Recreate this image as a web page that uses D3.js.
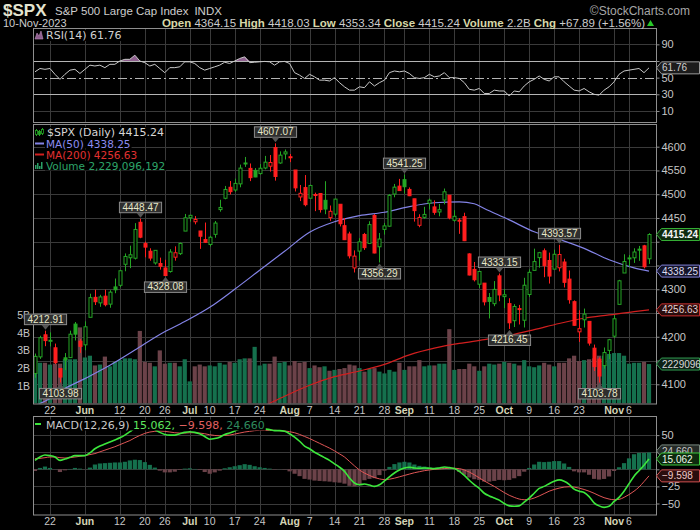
<!DOCTYPE html>
<html>
<head>
<meta charset="utf-8">
<script src="https://cdn.jsdelivr.net/npm/d3@7/dist/d3.min.js"></script>
<style>
  html, body { margin: 0; padding: 0; background: #000; }
  svg { display: block; }
</style>
</head>
<body>
<svg id="chart" width="700" height="530"></svg>
<script>
// trading days shown on the chart
const dates = [
  '2023-05-17','2023-05-18','2023-05-19','2023-05-22','2023-05-23','2023-05-24','2023-05-25','2023-05-26','2023-05-30','2023-05-31',
  '2023-06-01','2023-06-02','2023-06-05','2023-06-06','2023-06-07','2023-06-08','2023-06-09','2023-06-12','2023-06-13','2023-06-14',
  '2023-06-15','2023-06-16','2023-06-20','2023-06-21','2023-06-22','2023-06-23','2023-06-26','2023-06-27','2023-06-28','2023-06-29','2023-06-30',
  '2023-07-03','2023-07-05','2023-07-06','2023-07-07','2023-07-10','2023-07-11','2023-07-12','2023-07-13','2023-07-14','2023-07-17',
  '2023-07-18','2023-07-19','2023-07-20','2023-07-21','2023-07-24','2023-07-25','2023-07-26','2023-07-27','2023-07-28','2023-07-31',
  '2023-08-01','2023-08-02','2023-08-03','2023-08-04','2023-08-07','2023-08-08','2023-08-09','2023-08-10','2023-08-11','2023-08-14',
  '2023-08-15','2023-08-16','2023-08-17','2023-08-18','2023-08-21','2023-08-22','2023-08-23','2023-08-24','2023-08-25','2023-08-28',
  '2023-08-29','2023-08-30','2023-08-31',
  '2023-09-01','2023-09-05','2023-09-06','2023-09-07','2023-09-08','2023-09-11','2023-09-12','2023-09-13','2023-09-14','2023-09-15',
  '2023-09-18','2023-09-19','2023-09-20','2023-09-21','2023-09-22','2023-09-25','2023-09-26','2023-09-27','2023-09-28','2023-09-29',
  '2023-10-02','2023-10-03','2023-10-04','2023-10-05','2023-10-06','2023-10-09','2023-10-10','2023-10-11','2023-10-12','2023-10-13',
  '2023-10-16','2023-10-17','2023-10-18','2023-10-19','2023-10-20','2023-10-23','2023-10-24','2023-10-25','2023-10-26','2023-10-27',
  '2023-10-30','2023-10-31',
  '2023-11-01','2023-11-02','2023-11-03','2023-11-06','2023-11-07','2023-11-08','2023-11-09','2023-11-10'
];

const priorClose = 4109.90;

const opens = [
  4122.85,4157.68,4204.15,4190.78,4176.80,4132.96,4155.71,4156.16,4226.71,4190.74,
  4183.03,4241.01,4282.99,4271.34,4285.47,4268.69,4304.88,4308.32,4352.61,4366.29,4365.33,4440.95,4396.11,4380.01,4355.40,4354.17,4344.84,4337.36,4367.48,4374.94,4422.44,
  4450.48,4442.04,4422.62,4404.54,4394.23,4415.55,4467.69,4491.50,4514.61,4508.86,4521.78,4563.87,4554.38,4550.16,4543.39,4555.19,4558.96,4598.26,4565.75,4584.82,
  4578.83,4550.93,4494.27,4513.96,4491.58,4498.03,4501.57,4487.16,4450.69,4458.13,4478.87,4433.79,4416.32,4344.88,4380.28,4415.33,4396.44,4455.16,4389.38,4426.03,4432.75,4500.34,4517.01,
  4530.60,4510.06,4490.36,4434.55,4451.30,4480.98,4473.27,4462.65,4487.78,4497.98,4445.13,4445.41,4452.81,4374.36,4341.74,4310.62,4312.88,4282.63,4269.65,4328.18,
  4284.52,4269.75,4233.83,4259.31,4234.79,4289.02,4339.75,4366.59,4380.94,4360.49,4342.37,4345.23,4357.35,4321.36,4273.85,4210.40,4235.79,4232.42,4175.99,4152.93,4139.39,4171.33,
  4201.27,4268.26,4334.23,4364.27,4366.21,4384.37,4391.41,4364.15
];
const highs = [
  4164.67,4202.20,4212.91,4209.22,4185.68,4132.96,4165.74,4212.87,4231.10,4195.44,
  4232.43,4290.67,4299.28,4288.33,4299.19,4298.01,4322.62,4340.13,4375.37,4391.82,4439.20,4448.47,4400.15,4386.22,4382.25,4366.55,4362.06,4384.42,4390.35,4398.39,4458.48,
  4456.46,4454.06,4422.62,4440.39,4412.60,4443.64,4488.34,4517.38,4527.76,4532.85,4562.30,4578.43,4564.74,4555.00,4563.41,4580.62,4582.47,4607.07,4590.16,4594.22,
  4584.62,4550.93,4519.49,4540.34,4519.84,4503.31,4502.44,4527.37,4476.23,4490.33,4478.87,4449.95,4421.17,4381.82,4407.55,4418.59,4443.18,4458.30,4418.46,4439.56,4500.14,4521.65,4532.26,
  4541.25,4514.29,4490.36,4457.81,4473.53,4490.77,4487.11,4479.39,4511.99,4497.98,4466.36,4449.85,4461.03,4375.70,4357.40,4338.51,4313.01,4292.07,4317.27,4333.15,
  4300.58,4281.15,4268.50,4267.13,4324.10,4341.73,4385.46,4378.64,4385.85,4377.10,4383.33,4393.57,4364.20,4339.54,4276.56,4255.84,4259.38,4232.42,4183.60,4156.70,4177.47,4195.55,
  4245.64,4319.72,4373.62,4372.21,4386.26,4391.20,4393.40,4418.03
];
const lows = [
  4113.62,4153.50,4180.20,4179.68,4142.54,4103.98,4129.73,4156.16,4192.18,4166.15,
  4171.64,4241.01,4266.82,4263.09,4263.96,4261.07,4291.70,4304.37,4337.85,4344.47,4362.60,4407.44,4367.19,4360.14,4351.82,4341.34,4328.08,4335.00,4360.22,4371.97,4422.44,
  4442.29,4436.61,4385.05,4397.40,4389.92,4408.46,4463.23,4489.36,4499.56,4504.90,4514.59,4557.48,4527.56,4535.79,4541.29,4552.42,4547.58,4528.56,4564.01,4573.14,
  4567.53,4505.75,4485.54,4474.55,4491.15,4464.39,4461.33,4457.92,4443.98,4453.44,4432.19,4403.55,4364.83,4335.31,4360.30,4382.77,4396.44,4375.55,4356.29,4414.98,4431.68,4493.59,4507.39,
  4501.35,4496.01,4442.38,4430.46,4448.38,4467.89,4456.83,4453.52,4478.69,4447.21,4442.11,4416.61,4401.38,4329.17,4316.49,4302.70,4265.98,4238.63,4264.38,4274.86,
  4260.21,4216.45,4220.48,4225.91,4219.55,4283.79,4339.64,4345.34,4325.43,4311.97,4342.37,4337.54,4303.84,4269.69,4223.03,4189.22,4219.43,4181.42,4127.90,4103.78,4132.94,4153.12,
  4197.74,4268.26,4334.23,4347.53,4355.41,4359.76,4343.94,4353.34
];
const closes = [
  4158.77,4198.05,4191.98,4192.63,4145.58,4115.24,4151.28,4205.45,4205.52,4179.83,
  4221.02,4282.37,4273.79,4283.85,4267.52,4293.93,4298.86,4338.93,4369.01,4372.59,4425.84,4409.59,4388.71,4365.69,4381.89,4348.33,4328.82,4378.41,4376.86,4396.44,4450.38,
  4455.59,4446.82,4411.59,4398.95,4409.53,4439.26,4472.16,4510.04,4505.42,4522.79,4554.98,4565.72,4534.87,4536.34,4554.64,4567.46,4566.75,4537.41,4582.23,4588.96,
  4576.73,4513.39,4501.89,4478.03,4518.44,4499.38,4467.71,4468.83,4464.05,4489.72,4437.86,4404.33,4370.36,4369.71,4399.77,4387.55,4436.01,4376.31,4405.71,4433.31,4497.63,4514.87,4507.66,
  4515.77,4496.83,4465.48,4451.14,4457.49,4487.46,4461.90,4467.44,4505.10,4450.32,4453.53,4443.95,4402.20,4330.00,4320.06,4337.44,4273.53,4274.51,4299.70,4288.05,
  4288.39,4229.45,4263.75,4258.19,4308.50,4335.66,4358.24,4376.95,4349.61,4327.78,4373.63,4373.20,4314.60,4278.00,4224.16,4217.04,4247.68,4186.77,4137.23,4117.37,4166.82,4193.80,
  4237.86,4317.78,4358.34,4365.98,4378.38,4382.78,4347.35,4415.24
];
// billions of shares
const volumes = [
  2.45,2.3,2.3,2.2,2.25,2.25,2.5,2.5,2.5,4.3,
  2.6,2.7,2.15,2.2,2.65,2.1,2.35,2.45,2.55,2.55,2.5,4.1,2.35,2.3,2.1,3.0,2.25,2.3,2.3,2.1,2.5,
  1.25,2.1,2.2,2.1,2.15,2.1,2.3,2.2,2.35,2.3,2.5,2.55,2.55,3.2,2.15,2.25,2.25,2.65,2.3,2.35,
  2.15,2.4,2.3,2.35,2.0,2.15,2.05,2.1,1.85,1.9,1.95,2.0,2.2,2.15,2.0,1.8,1.95,2.0,1.8,1.7,1.9,1.8,2.3,
  1.9,2.1,2.1,2.45,2.1,2.15,2.15,2.25,2.25,4.2,1.9,1.95,1.95,2.25,2.1,1.85,2.1,2.25,2.2,2.25,
  2.35,2.3,2.25,2.15,2.45,2.1,2.05,2.15,2.3,2.2,2.1,2.3,2.3,2.55,2.7,2.4,2.45,2.5,2.55,2.7,2.7,2.8,
  2.85,2.85,2.7,2.25,2.3,2.3,2.35,2.229096192
];

// moving averages read at weekly points
const ma50Dates = ['2023-05-17','2023-05-22','2023-05-24','2023-06-01','2023-06-08','2023-06-15','2023-06-23','2023-06-30','2023-07-10','2023-07-17',
  '2023-07-24','2023-07-31','2023-08-07','2023-08-14','2023-08-21','2023-08-28','2023-09-05','2023-09-12','2023-09-19','2023-09-22','2023-09-26',
  '2023-10-03','2023-10-10','2023-10-17','2023-10-24','2023-10-31','2023-11-07','2023-11-10'];
const ma50Values = [4055,4070,4085,4112,4140,4172,4205,4232,4262,4300,
  4340,4380,4420,4442,4455,4462,4474,4482,4484,4480,4470,
  4446,4421,4405,4386,4362,4345,4338.25];
const ma200Dates = ['2023-07-17','2023-07-24','2023-07-31','2023-08-07','2023-08-14','2023-08-21','2023-08-28','2023-09-05','2023-09-12',
  '2023-09-19','2023-09-26','2023-10-03','2023-10-10','2023-10-17','2023-10-24','2023-10-31','2023-11-07','2023-11-10'];
const ma200Values = [4030,4050,4075,4098,4116,4128,4142,4162,4176,
  4186,4194,4203,4215,4228,4239,4246,4253,4256.63];

const rsiValues = [
  57,61,60,61,54,48,54,59,60,55,
  60,65,64,65,62,66,66,70,72,72,77,70,68,64,66,61,56,62,62,63,69,
  69,67,62,59,61,63,65,68.5,67,70,73,75,68,68.5,69,69.5,69,65,69,69.5,
  67,56,53,49,54,51,47,47,46,50,44,39,35,35,39,38,45,40,44,47,56,58,57,
  58,55,50,49,50,54,51,52,56,50,50,49,44,36,35,37,31,31,35,34,
  34,28,34,33,40,45,48,52,48,46,51,51,45,40,35,34,37,33,30,29,35,39,
  45,54,58,59,60,61,56,61.76
];
const macdValues = [
  13,18,21,20,18,13,15,17.5,20,20,
  20,24,30,34,37,40,43,46,50,55,60,63,63,61,58,54,51,50,50,52,54,
  55,54,52,48,44,45,47,51,53,56,59,62,62,61,60,59,58,56.5,56.5,55.5,
  52,47,41,34,30,25,21,17,13,8,3,-3,-12.7,-20,-22.5,-21.5,-23,-25,-22.5,-17,-11,-5.4,-1,
  2,3,2,1.5,2,1.5,1,2,3.4,2.5,1,-3,-9,-16,-22.5,-28,-35,-39,-42,-45,
  -50,-53.5,-54.1,-53.5,-48,-42,-35,-28,-25,-21,-17.5,-15.5,-17.5,-22,-29,-32,-34,-40,-49,-53.5,-55.6,-54,
  -47,-41,-32,-21,-10,-2,6,15.062
];
const signalValues = [
  15.5,16,17,18,18,17,16.5,17,18,19,
  20,21.5,23,25.5,28,30.5,33,36,39,42,46,49.5,52.5,54.5,55.5,56,55.5,54.5,53.5,53,53,
  53.5,53.5,53,52,50.5,49.5,49,49.5,50,51.5,53,54.5,55.5,56.5,57,57,57,57,56.5,56,
  55,53.5,51,48,45,41.5,38,34.5,31,27,22.5,18,11.5,5,-1,-5.5,-9,-12,-14,-15,-14.5,-13,-11,
  -9,-7,-5,-3.5,-2,-1,0,0.5,1,1.5,1.5,1,-1,-4,-8,-12.5,-17,-21,-25,-29.5,
  -34,-38,-41,-43.5,-44.5,-44,-42,-39,-35.5,-32,-29.5,-27.5,-26,-25.5,-26,-27.5,-29.5,-32,-35,-38.5,-41.5,-43.5,
  -44.5,-44,-41,-37,-32,-26,-18,-9.598
];

// labelled swing highs / lows
const swingDates = ['2023-05-19','2023-05-24','2023-06-16','2023-06-26','2023-07-27','2023-08-25','2023-09-01','2023-09-29','2023-10-03','2023-10-17','2023-10-27'];
const swingValues = [4212.91,4103.98,4448.47,4328.08,4607.07,4356.29,4541.25,4333.15,4216.45,4393.57,4103.78];

// axes
const tickDates = ['2023-05-22','2023-06-01','2023-06-12','2023-06-20','2023-06-26','2023-07-03','2023-07-10','2023-07-17','2023-07-24',
  '2023-08-01','2023-08-07','2023-08-14','2023-08-21','2023-08-28','2023-09-01','2023-09-11','2023-09-18','2023-09-25',
  '2023-10-02','2023-10-09','2023-10-16','2023-10-23','2023-11-01','2023-11-06'];
const tickLabels = ['22','Jun','12','20','26','Jul','10','17','24','Aug','7','14','21','28','Sep','11','18','25','Oct','9','16','23','Nov','6'];
const priceTicks = [4100,4150,4200,4250,4300,4350,4400,4450,4500,4550,4600];
const volumeTicks = [1,2,3,4,5];
const rsiTicks = [10,30,50,70,90];
const macdTicks = [-50,-25,0,25,50];

const GREEN = '#25a625';
const RED = '#ff1f1f';
const VOL_UP = '#15704d';
const VOL_DOWN = '#6b4249';
const GRID = '#3a3a3a';
const BORDER = '#8e8e8e';
const AXIS_FONT = '"Liberation Sans", Arial, sans-serif';
const LEGEND_FONT = '"DejaVu Sans", Verdana, sans-serif';

const plot = {left: 33, right: 656};
const rsiBox = {top: 28, bottom: 122};
const mainBox = {top: 124, bottom: 403.5};
const macdBox = {top: 416, bottom: 514.5};

const svg = d3.select('#chart');
svg.append('rect').attr('width', 700).attr('height', 530).attr('fill', '#000');

const x = d3.scaleBand().domain(dates).range([32.5, 651.5]);
const cx = d => x(d) + x.bandwidth() / 2;
const yPrice = d3.scaleLinear().domain([4100, 4600]).range([384.3, 146.7]);
const yVol = d3.scaleLinear().domain([0, 5]).range([mainBox.bottom, 315]);
const yRsi = d3.scaleLinear().domain([0, 100]).range([119.3, 36]);
const yMacd = d3.scaleLinear().domain([-50, 50]).range([503.5, 435.1]);

const bars = dates.map((date, i) => ({
  date,
  open: opens[i], high: highs[i], low: lows[i], close: closes[i],
  volume: volumes[i],
  up: closes[i] >= (i ? closes[i - 1] : priorClose),
  rsi: rsiValues[i], macd: macdValues[i], signal: signalValues[i]
}));
const last = bars[bars.length - 1];
const prev = bars[bars.length - 2];
const lastMa50 = ma50Values[ma50Values.length - 1];
const lastMa200 = ma200Values[ma200Values.length - 1];

const defs = svg.append('defs');
const addClip = (id, box) => defs.append('clipPath').attr('id', id)
  .append('rect').attr('x', plot.left).attr('y', box.top)
  .attr('width', plot.right - plot.left).attr('height', box.bottom - box.top);
addClip('clip-rsi', rsiBox);
addClip('clip-main', mainBox);
addClip('clip-macd', macdBox);

// ---- grids
const drawGrid = ({box, yScale, values}) => {
  const g = svg.append('g').attr('stroke', GRID).attr('stroke-width', 1);
  g.selectAll('line.v').data(tickDates).join('line')
    .attr('x1', d => Math.round(cx(d)) + 0.5).attr('x2', d => Math.round(cx(d)) + 0.5)
    .attr('y1', box.top).attr('y2', box.bottom);
  g.selectAll('line.h').data(values).join('line')
    .attr('x1', plot.left).attr('x2', plot.right)
    .attr('y1', d => Math.round(yScale(d)) + 0.5).attr('y2', d => Math.round(yScale(d)) + 0.5);
};
drawGrid({box: rsiBox, yScale: yRsi, values: [10, 90]});
drawGrid({box: mainBox, yScale: yPrice, values: priceTicks});
drawGrid({box: macdBox, yScale: yMacd, values: macdTicks});

// ---- volume
const mainG = svg.append('g').attr('clip-path', 'url(#clip-main)');
mainG.append('g').selectAll('rect').data(bars).join('rect')
  .attr('x', d => cx(d.date) - 2.1)
  .attr('width', 4.2)
  .attr('y', d => yVol(d.volume))
  .attr('height', d => yVol(0) - yVol(d.volume))
  .attr('fill', d => d.up ? VOL_UP : VOL_DOWN);

// ---- moving averages
const maLine = d3.line().x(d => cx(d[0])).y(d => yPrice(d[1])).curve(d3.curveMonotoneX);
mainG.append('path')
  .attr('d', maLine(d3.zip(ma200Dates, ma200Values)))
  .attr('fill', 'none').attr('stroke', '#d21f1f').attr('stroke-width', 1.2);
mainG.append('path')
  .attr('d', maLine(d3.zip(ma50Dates, ma50Values)))
  .attr('fill', 'none').attr('stroke', '#8383e6').attr('stroke-width', 1.2);

// ---- candles
const candles = mainG.append('g').selectAll('g').data(bars).join('g');
candles.append('line')
  .attr('x1', d => Math.round(cx(d.date)) + 0.5).attr('x2', d => Math.round(cx(d.date)) + 0.5)
  .attr('y1', d => yPrice(d.high)).attr('y2', d => yPrice(d.low))
  .attr('stroke', d => d.up ? GREEN : RED).attr('stroke-width', 1);
candles.append('rect')
  .attr('x', d => Math.round(cx(d.date)) - 1)
  .attr('width', 3)
  .attr('y', d => yPrice(Math.max(d.open, d.close)))
  .attr('height', d => Math.max(1, Math.abs(yPrice(d.open) - yPrice(d.close))))
  .attr('fill', d => d.close > d.open ? '#000' : (d.up ? GREEN : RED))
  .attr('stroke', d => d.up ? GREEN : RED)
  .attr('stroke-width', 1);

// ---- RSI
const rsiG = svg.append('g').attr('clip-path', 'url(#clip-rsi)');
rsiG.append('path')
  .attr('d', d3.area().x(d => cx(d.date)).y0(yRsi(70)).y1(d => yRsi(Math.max(d.rsi, 70)))(bars))
  .attr('fill', '#8e5f8e');
rsiG.selectAll('line.lvl').data([30, 70]).join('line')
  .attr('x1', plot.left).attr('x2', plot.right)
  .attr('y1', d => Math.round(yRsi(d)) + 0.5).attr('y2', d => Math.round(yRsi(d)) + 0.5)
  .attr('stroke', '#b4b4b4');
rsiG.append('line')
  .attr('x1', plot.left).attr('x2', plot.right)
  .attr('y1', Math.round(yRsi(50)) + 0.5).attr('y2', Math.round(yRsi(50)) + 0.5)
  .attr('stroke', '#b4b4b4').attr('stroke-dasharray', '9,3,2,3');
rsiG.append('path')
  .attr('d', d3.line().x(d => cx(d.date)).y(d => yRsi(d.rsi))(bars))
  .attr('fill', 'none').attr('stroke', '#c8c8c8').attr('stroke-width', 1);

// ---- MACD
const macdG = svg.append('g').attr('clip-path', 'url(#clip-macd)');
macdG.append('g').selectAll('rect').data(bars).join('rect')
  .attr('x', d => cx(d.date) - 2.1)
  .attr('width', 4.2)
  .attr('y', d => yMacd(Math.max(0, d.macd - d.signal)))
  .attr('height', d => Math.abs(yMacd(d.macd - d.signal) - yMacd(0)))
  .attr('fill', d => d.macd >= d.signal ? VOL_UP : VOL_DOWN);
macdG.append('path')
  .attr('d', d3.line().x(d => cx(d.date)).y(d => yMacd(d.signal)).curve(d3.curveMonotoneX)(bars))
  .attr('fill', 'none').attr('stroke', '#e05656').attr('stroke-width', 1);
macdG.append('path')
  .attr('d', d3.line().x(d => cx(d.date)).y(d => yMacd(d.macd)).curve(d3.curveMonotoneX)(bars))
  .attr('fill', 'none').attr('stroke', '#3ce63c').attr('stroke-width', 1.6);

// ---- panel borders
[rsiBox, mainBox, macdBox].forEach(box => {
  svg.append('rect')
    .attr('x', plot.left + 0.5).attr('y', box.top + 0.5)
    .attr('width', plot.right - plot.left).attr('height', box.bottom - box.top)
    .attr('fill', 'none').attr('stroke', BORDER);
});

// ---- value tags on the right edge (positions used to hide covered tick labels)
const tags = [
  {y: yRsi(last.rsi), text: d3.format('.2f')(last.rsi), stroke: '#9a9a9a', fill: '#1c1c1c', color: '#d0d0d0'},
  {y: yVol(last.volume), text: String(Math.round(last.volume * 1e9)).slice(0, 7), stroke: '#2f9a4f', fill: '#0d2116', color: '#d8d8d8'},
  {y: yPrice(lastMa200), text: d3.format('.2f')(lastMa200), stroke: '#c83030', fill: '#2a0c0c', color: '#e0d0d0'},
  {y: yPrice(lastMa50), text: d3.format('.2f')(lastMa50), stroke: '#8080d8', fill: '#15152a', color: '#dcdcf0'},
  {y: yPrice(last.close), text: d3.format('.2f')(last.close), stroke: '#35b035', fill: '#0e2a0e', color: '#f4f4f4', bold: true},
  {y: yMacd(last.macd - last.signal) - 1.5, text: d3.format('.3f')(last.macd - last.signal), stroke: '#7a8a80', fill: '#252a27', color: '#c8c8c8'},
  {y: yMacd(last.signal), text: d3.format('.3f')(last.signal), stroke: '#d25050', fill: '#2a0e0e', color: '#f0c8c8'},
  {y: yMacd(last.macd), text: d3.format('.3f')(last.macd), stroke: '#3cc83c', fill: '#0e2a0e', color: '#e8f8e8'}
];
const covered = yPos => tags.some(t => Math.abs(t.y - yPos) < 9);

// ---- axes
const styleAxis = (g, size) => {
  g.select('.domain').remove();
  g.selectAll('line').attr('stroke', BORDER);
  g.selectAll('text').attr('fill', '#c6c6c6').attr('font-family', AXIS_FONT).attr('font-size', size);
};
const rightAxis = (scale, values) => {
  svg.append('g').attr('transform', `translate(${plot.right + 0.5},0)`)
    .call(d3.axisRight(scale).tickValues(values).tickSize(3).tickPadding(2).tickFormat(d3.format('d')))
    .call(g => styleAxis(g, 11))
    .call(g => g.selectAll('.tick text').filter(d => covered(scale(d))).remove());
};
rightAxis(yPrice, priceTicks);
rightAxis(yRsi, rsiTicks);
rightAxis(yMacd, macdTicks);
svg.append('g').attr('transform', `translate(${plot.left - 2},0)`)
  .call(d3.axisLeft(yVol).tickValues(volumeTicks).tickSize(0).tickPadding(1).tickFormat(d => d + 'B'))
  .call(g => styleAxis(g, 10.5));

[mainBox.bottom + 1, macdBox.bottom + 1].forEach(yPos => {
  svg.append('g').attr('transform', `translate(0,${yPos})`)
    .call(d3.axisBottom(x).tickValues(tickDates).tickSize(0).tickPadding(2).tickFormat((d, i) => tickLabels[i]))
    .call(g => styleAxis(g, 10.5))
    .call(g => g.selectAll('text')
      .attr('font-weight', (d, i) => isNaN(+tickLabels[i]) ? 'bold' : 'normal')
      .attr('fill', (d, i) => isNaN(+tickLabels[i]) ? '#d4d4b6' : '#c6c6c6'));
});

const drawTag = ({y, text, stroke, fill, color, bold}) => {
  const g = svg.append('g').attr('transform', `translate(${plot.right},${y})`);
  g.append('path')
    .attr('d', 'M0.5,0 L5.5,-6 L43.5,-6 L43.5,6 L5.5,6 Z')
    .attr('fill', fill).attr('stroke', stroke).attr('stroke-width', 1);
  g.append('text')
    .attr('x', 6).attr('y', 3.6)
    .attr('font-family', AXIS_FONT).attr('font-size', 10)
    .attr('font-weight', bold ? 'bold' : 'normal')
    .attr('fill', color).text(text);
};
tags.forEach(drawTag);

// ---- swing callouts
const calloutG = svg.append('g');
swingDates.forEach((date, i) => {
  const value = swingValues[i];
  const bar = bars[dates.indexOf(date)];
  const above = Math.abs(bar.high - value) < Math.abs(bar.low - value);
  const px = Math.round(cx(date)) + 0.5;
  const tip = yPrice(value) + (above ? -1 : 1);
  const boxY = above ? tip - 15.5 : tip + 5;
  const g = calloutG.append('g');
  const txt = g.append('text')
    .attr('x', px).attr('y', boxY + 8.5)
    .attr('text-anchor', 'middle')
    .attr('font-family', AXIS_FONT).attr('font-size', 10)
    .attr('fill', '#e6e6c8')
    .text(d3.format('.2f')(value));
  const w = txt.node().getComputedTextLength() + 6;
  g.insert('rect', 'text')
    .attr('x', px - w / 2).attr('y', boxY)
    .attr('width', w).attr('height', 10.5)
    .attr('fill', '#2e2e2e').attr('stroke', '#8a8a8a');
  const baseY = above ? boxY + 10.5 : boxY;
  g.insert('path', 'text')
    .attr('d', `M${px - 4},${baseY} L${px + 4},${baseY} L${px},${tip} Z`)
    .attr('fill', '#555');
});

// ---- legends
const legendText = ({g, xPos, y, parts, size}) => {
  const t = g.append('text').attr('x', xPos).attr('y', y)
    .attr('font-family', LEGEND_FONT).attr('font-size', size || 10.5);
  parts.forEach(p => t.append('tspan').attr('fill', p.color).text(p.text));
  const bb = t.node().getBBox();
  g.insert('rect', 'text').attr('x', bb.x - 1).attr('y', bb.y + 1)
    .attr('width', bb.width + 2).attr('height', bb.height - 2).attr('fill', '#000');
  return t;
};

const legendG = svg.append('g');
// price legend
const candleIcon = legendG.append('g').attr('transform', 'translate(35,128)');
[[1, 1, 7, true], [4, 2, 6, false], [7, 0, 7, true]].forEach(([ix, iy, ih, hollow]) => {
  candleIcon.append('line').attr('x1', ix + 0.5).attr('x2', ix + 0.5).attr('y1', iy).attr('y2', iy + ih).attr('stroke', GREEN);
  candleIcon.append('rect').attr('x', ix - 0.5).attr('y', iy + 1.5).attr('width', 2).attr('height', ih - 3)
    .attr('fill', hollow ? '#000' : GREEN).attr('stroke', GREEN).attr('stroke-width', 0.8);
});
legendText({g: legendG, xPos: 47, y: 136, parts: [{text: '$SPX (Daily) ' + d3.format('.2f')(last.close), color: '#d6d6d6'}], size: 11});
legendG.append('rect').attr('x', 35).attr('y', 142.5).attr('width', 9).attr('height', 2).attr('fill', '#8383e6');
legendText({g: legendG, xPos: 46, y: 147.5, parts: [{text: 'MA(50) ' + d3.format('.2f')(lastMa50), color: '#8c8cf0'}]});
legendG.append('rect').attr('x', 35).attr('y', 153.5).attr('width', 9).attr('height', 2).attr('fill', '#d21f1f');
legendText({g: legendG, xPos: 46, y: 158.5, parts: [{text: 'MA(200) ' + d3.format('.2f')(lastMa200), color: '#e23030'}]});
[[0, 4], [2, 2], [4, 5], [6, 1]].forEach(([ix, ih]) => {
  legendG.append('rect').attr('x', 35 + ix).attr('y', 161 + ih).attr('width', 1.5).attr('height', 8 - ih).attr('fill', '#2aa066');
});
legendText({g: legendG, xPos: 46, y: 169.5, parts: [{text: 'Volume ' + d3.format(',')(Math.round(last.volume * 1e9)), color: '#2ea56a'}]});

// RSI legend
legendG.append('path').attr('d', 'M35,39 L37,33 L39,36 L41,31 L43,39 Z').attr('fill', '#8e5f8e').attr('stroke', '#b88ab8').attr('stroke-width', 0.6);
legendText({g: legendG, xPos: 46, y: 39, parts: [{text: 'RSI(14) ' + d3.format('.2f')(last.rsi), color: '#d0d0d0'}], size: 11});

// MACD legend
legendG.append('rect').attr('x', 35).attr('y', 423).attr('width', 6).attr('height', 2).attr('fill', '#3ce63c');
legendText({g: legendG, xPos: 46, y: 428.5, parts: [
  {text: 'MACD(12,26,9) ', color: '#c8c8c8'},
  {text: d3.format('.3f')(last.macd) + ', ', color: '#5ee65e'},
  {text: d3.format('.3f')(last.signal) + ', ', color: '#e06060'},
  {text: d3.format('.3f')(last.macd - last.signal), color: '#2e8a5e'}
], size: 11});

// ---- header
const chg = last.close - prev.close;
const header = svg.append('g').attr('font-family', AXIS_FONT);
header.append('text').attr('x', 3).attr('y', 15.5).attr('font-size', 17).attr('font-weight', 'bold')
  .attr('fill', '#e4e4d0').text('$SPX');
const title = header.append('text').attr('x', 55).attr('y', 14.5).attr('font-size', 11.5).attr('fill', '#cdcdcd')
  .text('S&P 500 Large Cap Index');
header.append('text').attr('x', 55 + title.node().getComputedTextLength() + 6).attr('y', 14.5)
  .attr('font-size', 11.5).attr('fill', '#cdcdcd').text('INDX');
header.append('text').attr('x', 690).attr('y', 14.5).attr('font-size', 12).attr('text-anchor', 'end')
  .attr('fill', '#a6a6a6').text('\u00A9StockCharts.com');
header.append('text').attr('x', 3).attr('y', 26.5).attr('font-size', 11).attr('fill', '#cdcdcd')
  .text(d3.timeFormat('%d-%b-%Y')(d3.timeParse('%Y-%m-%d')(last.date)));

const quote = header.append('text').attr('x', 645).attr('y', 26.5).attr('font-size', 11.5).attr('text-anchor', 'end');
[
  ['Open', d3.format('.2f')(last.open)],
  ['High', d3.format('.2f')(last.high)],
  ['Low', d3.format('.2f')(last.low)],
  ['Close', d3.format('.2f')(last.close)],
  ['Volume', d3.format('.1f')(last.volume) + 'B'],
  ['Chg', d3.format('+.2f')(chg) + ' (' + d3.format('+.2f')(chg / prev.close * 100) + '%)']
].forEach(([label, val], i) => {
  quote.append('tspan').attr('font-weight', 'bold').attr('fill', '#d8d8a8').text((i ? '  ' : '') + label);
  quote.append('tspan').attr('fill', '#cdcdcd').text(' ' + val);
});
header.append('path').attr('d', 'M647,26 L650.5,20 L654,26 Z').attr('fill', '#28c828');
</script>
</body>
</html>
